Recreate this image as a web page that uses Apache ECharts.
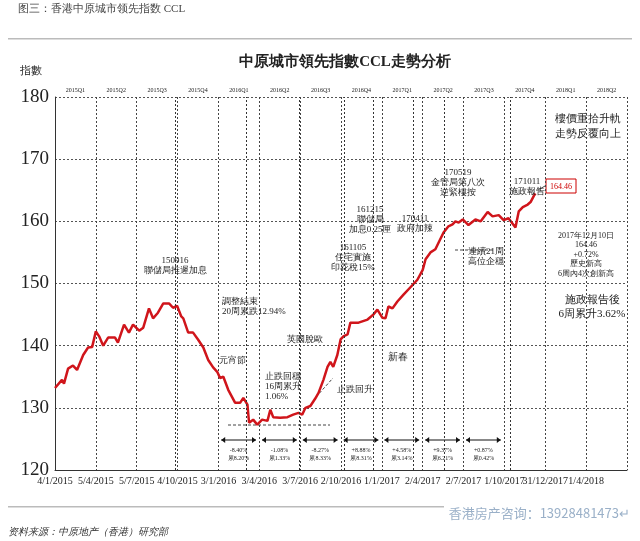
<!DOCTYPE html>
<html><head><meta charset="utf-8">
<script src="https://cdn.jsdelivr.net/npm/echarts@6/dist/echarts.min.js"></script>
<style>html,body{margin:0;padding:0;background:#fff}#c{width:640px;height:541px}</style>
</head><body><div id="c"></div>
<script>
// x position in quarters since 4/1/2015
const xq = [0,0.17,0.22,0.32,0.44,0.54,0.69,0.81,0.91,1.0,1.08,1.18,1.30,1.47,1.54,1.69,1.81,1.91,2.06,2.16,2.30,2.40,2.52,2.65,2.79,2.89,2.99,3.09,3.14,3.26,3.38,3.50,3.63,3.75,3.87,3.97,4.04,4.12,4.24,4.41,4.53,4.61,4.71,4.75,4.85,4.95,5.07,5.20,5.27,5.34,5.51,5.69,5.83,5.96,6.05,6.13,6.25,6.37,6.45,6.57,6.67,6.74,6.81,6.91,6.99,7.06,7.16,7.23,7.30,7.43,7.65,7.79,7.89,8.01,8.09,8.16,8.26,8.38,8.53,8.70,8.87,9.0,9.07,9.19,9.31,9.39,9.51,9.63,9.73,9.80,9.88,9.98,10.12,10.29,10.42,10.59,10.71,10.86,10.98,11.10,11.27,11.35,11.45,11.57,11.64,11.72,11.76];
const ccl = [133.2,134.5,133.9,136.3,136.8,136.1,138.5,139.7,139.8,142.3,141.5,140.0,141.3,141.3,140.5,143.4,142.1,143.4,142.4,142.9,146.0,144.4,145.3,146.8,146.8,146.1,146.4,144.7,144.4,142.1,142.1,141.0,139.7,137.7,136.5,135.8,134.8,135.0,132.9,130.8,130.8,131.6,130.5,127.6,128.1,127.3,128.1,127.9,129.7,128.5,128.4,128.5,128.9,129.2,128.9,130.0,130.3,131.5,132.4,134.5,136.6,137.4,136.6,138.5,141.0,141.5,141.8,143.7,143.7,143.7,144.2,145.0,145.8,144.5,144.4,146.3,146.0,147.1,148.2,149.4,150.6,152.2,153.9,155.0,155.5,156.6,158.2,159.2,159.5,160.0,159.8,160.3,159.4,160.3,160.0,161.5,160.8,161.0,160.2,160.5,159.0,161.6,162.3,162.7,163.1,164.1,164.46];
const dateLabels = ['4/1/2015','5/4/2015','5/7/2015','4/10/2015','3/1/2016','3/4/2016','3/7/2016','2/10/2016','1/1/2017','2/4/2017','2/7/2017','1/10/2017','31/12/2017','1/4/2018'];
const quarterLabels = ['2015Q1','2015Q2','2015Q3','2015Q4','2016Q1','2016Q2','2016Q3','2016Q4','2017Q1','2017Q2','2017Q3','2017Q4','2018Q1','2018Q2'];
const yTicks = [120,130,140,150,160,170,180];
const eventX = [2.95,4.67,5.97,7.07,7.78,8.78,9.53,11.15];
const weekly = ['-8.40%\n累8.20%','-1.08%\n累1.33%','-8.27%\n累8.33%','+8.88%\n累8.31%','+4.58%\n累3.14%','+9.37%\n累6.21%','+0.87%\n累0.42%'];

const F = '"Liberation Serif","DejaVu Serif",serif';
const chart = echarts.init(document.getElementById('c'));
const data = xq.map((x,i)=>[x,ccl[i]]);
const txt = (x,y,t,o={}) => ({type:'text',x:x,y:y,z:10,style:Object.assign({text:t,font:'9px '+F,fill:'#222',align:'center',verticalAlign:'top',lineHeight:10},o)});
const graphics = [
  txt(18,4,'图三：香港中原城市领先指数 CCL',{font:'11px '+F,fill:'#444',align:'left'}),
  {type:'rect',shape:{x:8,y:38,width:624,height:1.5},style:{fill:'#bbb'}},
  txt(20,66,'指數',{font:'11px '+F,align:'left'}),
  txt(345,57,'中原城市領先指數CCL走勢分析',{font:'bold 15px '+F}),
  txt(175,256,'150916\n聯儲局推遲加息'),
  txt(222,297,'調整結束\n20周累跌12.94%',{align:'left'}),
  txt(232,356,'元宵節'),
  txt(265,372,'止跌回穩\n16周累升\n1.06%',{align:'left'}),
  txt(305,335,'英國脫歐'),
  txt(337,385,'止跌回升',{align:'left'}),
  txt(353,243,'161105\n住宅實施\n印花稅15%'),
  txt(370,205,'161215\n聯儲局\n加息0.25厘'),
  txt(415,214,'170411\n政府加辣'),
  txt(458,168,'170519\n金管局第八次\n逆緊樓按'),
  txt(527,177,'171011\n施政報告'),
  txt(398,352,'新春',{font:'10px '+F}),
  txt(486,247,'連續21周\n高位企穩'),
  {type:'rect',shape:{x:546,y:179,width:30,height:14},style:{fill:'#fff',stroke:'#c00',lineWidth:1}},
  txt(561,182,'164.46',{fill:'#c00',font:'8px '+F}),
  {type:'line',shape:{x1:538,y1:190,x2:545,y2:186},style:{stroke:'#444'}},
  txt(588,112,'樓價重拾升軌\n走勢反覆向上',{font:'11px '+F,lineHeight:15}),
  txt(586,231,'2017年12月10日\n164.46\n+0.72%\n歷史新高\n6周內4次創新高',{font:'8px '+F,lineHeight:9.5}),
  txt(592,293,'施政報告後\n6周累升3.62%',{font:'11px '+F,lineHeight:14}),
  {type:'line',shape:{x1:228,y1:425,x2:330,y2:425},style:{stroke:'#444',lineDash:[3,2]}},
  {type:'line',shape:{x1:316,y1:397,x2:333,y2:378},style:{stroke:'#444',lineDash:[3,2]}},
  {type:'line',shape:{x1:455,y1:250,x2:495,y2:250},style:{stroke:'#444',lineDash:[3,2]}},
  {type:'rect',shape:{x:8,y:506,width:436,height:1.5},style:{fill:'#bbb'}},
  txt(630,508,'香港房产咨询：13928481473↵',{font:'13px "Noto Sans CJK SC"',fill:'#9ab0c8',align:'right'}),
  txt(8,527,'资料来源：中原地产（香港）研究部',{font:'italic 10px '+F,fill:'#333',align:'left'})
];
weekly.forEach((t,i)=>{
  const x0 = 55+40.8*(4+i)+3, x1 = 55+40.8*(5+i)-3;
  graphics.push({type:'line',shape:{x1:x0,y1:440,x2:x1,y2:440},style:{stroke:'#111',lineWidth:1}});
  graphics.push({type:'polygon',shape:{points:[[x0,440],[x0+4,437],[x0+4,443]]},style:{fill:'#111'}});
  graphics.push({type:'polygon',shape:{points:[[x1,440],[x1-4,437],[x1-4,443]]},style:{fill:'#111'}});
  graphics.push(txt((x0+x1)/2,446,t,{font:'6px '+F,lineHeight:8}));
});
chart.setOption({
  animation:false,
  grid:{left:55,right:13,top:97,bottom:71},
  xAxis:[{type:'value',min:0,max:14,interval:1,
    axisLine:{lineStyle:{color:'#333'}},axisTick:{show:false},
    splitLine:{show:true,lineStyle:{type:[2,2],color:'#444'}},
    axisLabel:{fontFamily:F,fontSize:10,color:'#222',margin:6,formatter:v=>dateLabels[v]||''}},
   {type:'category',data:quarterLabels,boundaryGap:true,position:'top',axisLine:{show:false},axisTick:{show:false},
    axisLabel:{fontFamily:F,fontSize:6,color:'#222',margin:4,interval:0},splitLine:{show:false}}],
  yAxis:{type:'value',min:yTicks[0],max:yTicks[yTicks.length-1],interval:10,
    axisLine:{show:true,lineStyle:{color:'#333'}},axisTick:{show:false},
    splitLine:{lineStyle:{type:[2,2],color:'#555'}},
    axisLabel:{fontFamily:F,fontSize:19,color:'#222',margin:6}},
  graphic:graphics,
  series:[{type:'line',xAxisIndex:0,data:data,showSymbol:false,lineStyle:{color:'#d0151b',width:2.5},itemStyle:{color:'#d0151b'},
    markLine:{silent:true,symbol:'none',label:{show:false},lineStyle:{color:'#333',type:[2,2],width:1},
      data:eventX.map(x=>({xAxis:x}))}}]
});
</script></body></html>
